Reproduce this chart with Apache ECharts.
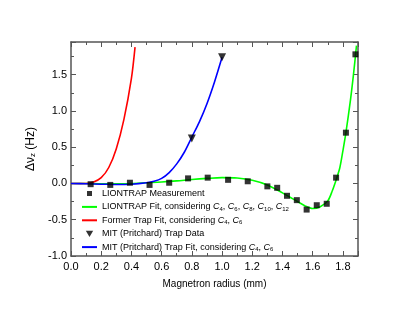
<!DOCTYPE html>
<html><head><meta charset="utf-8">
<script src="https://cdn.jsdelivr.net/npm/echarts@6/dist/echarts.min.js"></script>
<style>html,body{margin:0;padding:0;background:#fff}#c{width:399px;height:311px}</style>
</head><body><div id="c"></div>
<script>
// Measurement data (LIONTRAP)
const measX = [0.13,0.26,0.39,0.52,0.65,0.775,0.905,1.04,1.17,1.30,1.365,1.43,1.495,1.56,1.627,1.693,1.755,1.82,1.883];
const measY = [-0.01,-0.02,0.01,-0.02,0.01,0.07,0.08,0.05,0.03,-0.04,-0.06,-0.17,-0.23,-0.36,-0.30,-0.28,0.08,0.70,1.78];
// LIONTRAP fit (green)
const greenX = [0,0.1,0.2,0.3,0.4,0.5,0.6,0.7,0.8,0.9,1.0,1.1,1.2,1.3,1.4,1.45,1.5,1.55,1.6,1.65,1.7,1.73,1.76,1.78,1.8,1.82,1.85,1.87,1.89];
const greenY = [0,0,-0.005,-0.005,0,0.01,0.02,0.035,0.055,0.07,0.08,0.075,0.045,-0.02,-0.13,-0.19,-0.25,-0.31,-0.345,-0.32,-0.24,-0.1,0.08,0.22,0.45,0.70,1.15,1.5,1.9];
// Former trap fit (red)
const redX = [0,0.05,0.1,0.15,0.2,0.25,0.3,0.35,0.4,0.424];
const redY = [0,0,0,0.02,0.08,0.22,0.48,0.88,1.45,1.88];
// MIT (Pritchard) data and fit (blue)
const mitX = [0.8,1.0];
const mitY = [0.62,1.74];
const blueX = [0,0.1,0.2,0.3,0.4,0.5,0.55,0.6,0.65,0.7,0.75,0.8,0.85,0.9,0.95,1.0];
const blueY = [0,-0.005,-0.01,-0.015,-0.01,0.01,0.03,0.07,0.15,0.27,0.43,0.64,0.85,1.1,1.4,1.74];
// Legend names and labels
const seriesNames = ['LIONTRAP Measurement','LIONTRAP Fit','Former Trap Fit','MIT (Pritchard) Trap Data','MIT (Pritchard) Trap Fit'];
const legendLabels = [
  'LIONTRAP Measurement',
  'LIONTRAP Fit, considering {i|C}{s|4}, {i|C}{s|6}, {i|C}{s|8}, {i|C}{s|10}, {i|C}{s|12}',
  'Former Trap Fit, considering {i|C}{s|4}, {i|C}{s|6}',
  'MIT (Pritchard) Trap Data',
  'MIT (Pritchard) Trap Fit, considering {i|C}{s|4}, {i|C}{s|6}'
];
const xTicks = {min:0, max:1.9, interval:0.2};
const yTicks = {min:-1, max:1.95, interval:0.5};

const zip = (a,b) => a.map((v,i)=>[v,b[i]]);
const FONT = 'Liberation Sans, Arial, sans-serif';
const axisColor = '#555';

const chart = echarts.init(document.getElementById('c'), null, {renderer:'canvas'});
const baseX = {
  type:'value', min:xTicks.min, max:xTicks.max, interval:xTicks.interval,
  axisLine:{show:true, onZero:false, lineStyle:{color:axisColor, width:1.5}},
  axisTick:{show:true, inside:true, length:5, lineStyle:{color:axisColor, width:1}},
  minorTick:{show:true, splitNumber:2, length:3, lineStyle:{color:axisColor, width:1}},
  splitLine:{show:false}, minorSplitLine:{show:false}
};
const baseY = {
  type:'value', min:yTicks.min, max:yTicks.max, interval:yTicks.interval,
  axisLine:{show:true, onZero:false, lineStyle:{color:axisColor, width:1.5}},
  axisTick:{show:true, inside:true, length:5, lineStyle:{color:axisColor, width:1}},
  minorTick:{show:true, splitNumber:2, length:3, lineStyle:{color:axisColor, width:1}},
  splitLine:{show:false}, minorSplitLine:{show:false}
};
const hideSym = {opacity:0};
const option = {
  animation:false,
  backgroundColor:'#fff',
  grid:{left:71, right:41, top:42, bottom:55},
  xAxis:[
    Object.assign({}, baseX, {position:'bottom',
      name:'Magnetron radius (mm)', nameLocation:'middle', nameGap:23,
      nameTextStyle:{fontFamily:FONT, fontSize:10, color:'#000'},
      axisLabel:{fontFamily:FONT, fontSize:11, color:'#000', margin:5, showMaxLabel:false,
        formatter:v=>v.toFixed(1)}}),
    Object.assign({}, baseX, {position:'top', axisLabel:{show:false}})
  ],
  yAxis:[
    Object.assign({}, baseY, {position:'left',
      name:'Δν{s|z} (Hz)', nameLocation:'middle', nameGap:26, nameRotate:90,
      nameTextStyle:{fontFamily:FONT, fontSize:12, color:'#000',
        rich:{s:{fontFamily:FONT, fontSize:8, color:'#000', verticalAlign:'bottom'}}},
      axisLabel:{fontFamily:FONT, fontSize:11, color:'#000', margin:4, showMaxLabel:false,
        formatter:v=>v.toFixed(1)}}),
    Object.assign({}, baseY, {position:'right', axisLabel:{show:false}})
  ],
  legend:{
    orient:'vertical', left:81, top:188, itemWidth:15, itemHeight:7, itemGap:2.4,
    padding:0, symbolRotate:0,
    data:[
      {name:seriesNames[0], icon:'path://M0,0M15,7M5,1h5v5h-5z'},
      {name:seriesNames[1], itemStyle:hideSym},
      {name:seriesNames[2], itemStyle:hideSym},
      {name:seriesNames[3], icon:'path://M0,0M15,7M3.8,0.5h7.4l-3.7,6.2z'},
      {name:seriesNames[4], itemStyle:hideSym}
    ],
    formatter: name => legendLabels[seriesNames.indexOf(name)],
    textStyle:{fontFamily:FONT, fontSize:9, color:'#000', lineHeight:11,
      rich:{
        i:{fontFamily:FONT, fontSize:9, fontStyle:'italic', color:'#000', lineHeight:11},
        s:{fontFamily:FONT, fontSize:6, color:'#000', verticalAlign:'bottom', lineHeight:11, padding:[4,0,0,0]}
      }}
  },
  series:[
    {name:seriesNames[0], type:'scatter', symbol:'rect', symbolSize:6, itemStyle:{color:'#000'}, data:zip(measX,measY), z:5},
    {name:seriesNames[1], type:'line', symbol:'none', smooth:0.3, lineStyle:{color:'#00ff00', width:1.6}, itemStyle:{color:'#00ff00'}, data:zip(greenX,greenY), z:3},
    {name:seriesNames[2], type:'line', symbol:'none', smooth:0.3, lineStyle:{color:'#ff0000', width:1.6}, itemStyle:{color:'#ff0000'}, data:zip(redX,redY), z:3},
    {name:seriesNames[3], type:'scatter', symbol:'triangle', symbolRotate:180, symbolSize:8, itemStyle:{color:'#000'}, data:zip(mitX,mitY), z:5},
    {name:seriesNames[4], type:'line', symbol:'none', smooth:0.3, lineStyle:{color:'#0000ff', width:1.6}, itemStyle:{color:'#0000ff'}, data:zip(blueX,blueY), z:3}
  ]
};
chart.setOption(option);
</script></body></html>
